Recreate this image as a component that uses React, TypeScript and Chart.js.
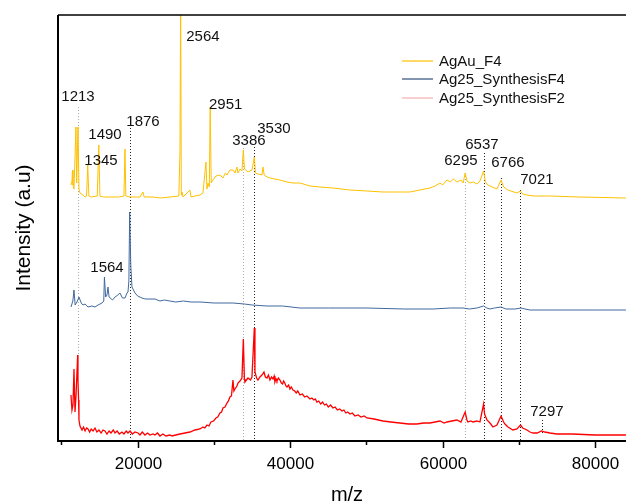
import React, { useEffect, useRef } from 'react';
import { Chart, registerables } from 'chart.js';

Chart.register(...registerables);

const FONT = '"Liberation Sans", Arial, sans-serif';

const seriesNames = ['AgAu_F4', 'Ag25_SynthesisF4', 'Ag25_SynthesisF2'];
const seriesColors = ['#FFC000', '#41699E', '#FF0000'];
const legendColors = ['#FFC000', '#2E4D7B', '#F5AFAF'];

// AgAu_F4 (yellow)
const agAuMz = [
  11250, 11383, 11450, 11515, 11646, 11908, 12000, 12170, 12301, 12432, 12826, 13088, 13300, 13450, 13600,
  13900, 14700, 14900, 15050, 15500, 16500, 17500, 18200, 18334, 18450, 19000, 20302, 20695, 20850, 22000,
  23000, 24236, 25400, 25548, 25640, 25720, 25810, 25950, 26859, 27000, 27515, 28170, 28564, 28957, 29089,
  29220, 29400, 29510, 29650, 29876, 30269, 30794, 31187, 31500, 31712, 32105, 32499, 32761, 33023, 33154,
  33417, 33679, 33860, 34000, 34466, 34990, 35300, 35450, 35777, 36300, 36433, 36600, 37000, 37351, 38000,
  38663, 39581, 40368, 41286, 42597, 43909, 45614, 47843, 50072, 52171, 54400, 55712, 57000, 58335, 59000,
  59646, 60000, 60564, 61000, 61400, 61876, 62400, 62700, 62950, 63200, 63581, 64000, 64500, 64893, 65370,
  65600, 65943, 66500, 67123, 67660, 68000, 68566, 69746, 70210, 70500, 71058, 72000, 74074, 78000, 84041,
];
const agAuI = [
  256, 260, 271, 256, 252, 314, 258, 314, 252, 248, 246, 244, 245, 276, 245,
  244, 245, 296, 245, 244, 244, 244, 245, 292, 245, 244, 244, 249, 244, 244,
  243, 244, 245, 289, 450, 246, 249, 244, 251, 244, 245, 246, 248, 279, 252,
  258, 254, 334, 258, 261, 265, 266, 263, 268, 266, 271, 271, 268, 274, 268,
  272, 270, 291, 272, 269, 271, 284, 268, 267, 266, 274, 266, 264, 263, 262,
  261, 259, 258, 258, 255, 254, 253, 251, 250, 249, 249, 249, 251, 253, 255,
  258, 256, 261, 259, 262, 259, 261, 258, 268, 260, 258, 259, 257, 260, 270,
  259, 256, 254, 252, 261, 254, 251, 248, 250, 247, 246, 245, 245, 244, 243,
];

// Ag25_SynthesisF4 (blue)
const ag25F4Mz = [
  11250, 11500, 11646, 11800, 12039, 12301, 12600, 12826, 13100, 13482, 14000, 14400, 14800, 15318, 15550,
  15640, 15800, 15974, 16105, 16250, 16367, 16700, 17023, 17400, 17679, 18000, 18334, 18600, 18728, 18850,
  18950, 19100, 19252, 19646, 20000, 20564, 21000, 21613, 22269, 22925, 23500, 24236, 25000, 26000, 27000,
  28170, 30000, 32499, 34000, 35000, 36958, 39000, 41286, 45000, 50072, 55000, 58728, 61000, 62663, 63500,
  64500, 65370, 65800, 66205, 66800, 67660, 68300, 68828, 69500, 70271, 70800, 71451, 75000, 80000, 84041,
];
const ag25F4I = [
  134, 140, 151, 136, 139, 144, 138, 136, 137, 134, 135, 134, 136, 138, 140,
  164, 144, 146, 154, 144, 144, 141, 144, 146, 148, 143, 143, 148, 149, 160,
  229, 175, 154, 148, 145, 143, 142, 142, 142, 140, 141, 140, 139, 140, 139,
  139, 138, 138, 137, 136, 135, 135, 133, 133, 133, 132, 132, 133, 133, 132,
  133, 135, 133, 132, 133, 134, 132, 132, 132, 133, 132, 131, 131, 131, 131,
];

// Ag25_SynthesisF2 (red)
const ag25F2Mz = [
  11250, 11383, 11515, 11646, 11777, 11908, 12130, 12170, 12250, 12301, 12432,
  12700, 12900, 13100, 13300, 13482, 13700, 13900, 14150, 14400, 14650, 14925, 15200, 15450, 15712, 15974,
  16250, 16500, 16800, 17023, 17300, 17600, 17941, 18200, 18500, 18728, 19000, 19300, 19646, 20039, 20300,
  20600, 20958, 21300, 21613, 22007, 22269, 22600, 22925, 23300, 23700, 24236, 24498, 25000, 25548, 26203,
  26859, 27515,
  28170, 28564, 28800, 29089, 29350, 29613, 29950, 30269, 30500, 30794, 31000, 31187, 31450, 31712, 31900,
  32105, 32300, 32499, 32620, 32761, 33023, 33154, 33417, 33679,
  33860, 34000, 34072, 34466, 34800, 34990, 35300, 35384, 35600, 35777,
  36040, 36300, 36564, 36750, 36958, 37150, 37351, 37550, 37745, 37900, 38000, 38150, 38269, 38450, 38663,
  38850, 39000, 39150, 39300, 39450, 39581, 39800, 39974, 40150, 40368, 40600, 40800, 41000, 41286, 41600,
  41900, 42200, 42597, 42850, 43100, 43300, 43515, 43750, 44000, 44250, 44500, 44750, 45000, 45300, 45614,
  45900, 46200, 46500, 46800, 47050, 47300, 47550, 47843, 48150, 48500, 48900, 49300, 49700, 50072,
  51000, 52171, 53200, 54400, 55500, 56630, 57500, 58335, 59000, 59646, 60200, 60564, 61200, 61876, 62400,
  62950, 63188, 63319, 63700, 63975, 64500, 64893, 65370, 65500, 65812, 66205, 66598, 67123, 67660, 68000,
  68172, 68566, 69222, 69746, 70210, 70500, 71058, 71451, 71845, 72400, 72970, 73400, 74074, 74992, 77000,
  80000, 84041,
];
const ag25F2I = [
  46, 31, 36, 72, 29, 44, 86, 61, 41, 21, 15,
  11, 14, 10, 13, 12, 9, 12, 10, 13, 9, 11, 8, 11, 10, 7,
  10, 8, 11, 8, 10, 7, 9, 7, 10, 8, 10, 7, 9, 8, 6,
  9, 6, 8, 6, 7, 6, 8, 5, 7, 5, 6, 5, 6, 7, 8,
  9, 11,
  12, 14, 13, 16, 15, 19, 20, 23, 24, 28, 29, 33, 34, 38, 40,
  44, 45, 61, 50, 52, 55, 58, 60, 63,
  102, 62, 59, 63, 61, 64, 113, 69, 63, 61,
  64, 66, 69, 64, 63, 66, 61, 64, 62, 65, 59, 62, 60, 63, 61,
  58, 57, 60, 58, 55, 54, 56, 52, 54, 51, 50, 48, 50, 46, 47,
  44, 45, 42, 43, 41, 42, 39, 40, 37, 39, 36, 37, 34, 36, 33,
  34, 31, 32, 30, 31, 28, 29, 27, 28, 25, 26, 24, 25, 23,
  22, 20, 19, 18, 17, 17, 18, 18, 19, 20, 18, 19, 20, 21, 19,
  29, 21, 19, 20, 19, 20, 19, 37, 27, 21, 18, 14, 16, 25, 19,
  17, 14, 11, 12, 16, 13, 11, 9, 8, 8, 10, 9, 8, 7, 7,
  6, 6,
];

// Peak annotations
const peakLabels = ['1213', '1490', '1345', '1876', '2564', '2951', '3386', '3530', '6537', '6295', '6766', '7021', '1564', '7297'];
const peakLabelMz = [12170, 15712, 15187, 20695, 28564, 31548, 34597, 37876, 65156, 62401, 68566, 72369, 15974, 73681];
const peakLabelI = [344, 306, 280, 319, 404, 336, 300, 312, 296, 280, 278, 261, 173, 29];

// Dotted guide lines
const guideMz = [12130, 18950, 33860, 35300, 62950, 65370, 67660, 70210, 72970];
const guideTop = [334, 313, 293, 294, 268, 288, 263, 251, 21];
const guideBottom = [86, 0, 0, 0, 0, 0, 0, 0, 8];
const guideDark = [false, true, false, true, false, true, true, true, true];

// Axis
const xMin = 9550;
const xMax = 84050;
const yMin = 0;
const yMax = 426;
const xTickValues = [10000, 20000, 30000, 40000, 50000, 60000, 70000, 80000];
const xTickLabels = ['', '20000', '', '40000', '', '60000', '', '80000'];
const xTitle = 'm/z';
const yTitle = 'Intensity (a.u)';

const overlayPlugin = {
  id: 'overlay',
  beforeDatasetsDraw(chart: any) {
    const { ctx, scales } = chart;
    const xs = scales.x;
    const ys = scales.y;
    ctx.save();
    ctx.lineWidth = 1;
    ctx.setLineDash([1, 2]);
    guideMz.forEach((m, i) => {
      const x = Math.round(xs.getPixelForValue(m)) + 0.5;
      ctx.strokeStyle = guideDark[i] ? '#222222' : '#AAAAAA';
      ctx.beginPath();
      ctx.moveTo(x, ys.getPixelForValue(guideTop[i]));
      ctx.lineTo(x, ys.getPixelForValue(guideBottom[i]));
      ctx.stroke();
    });
    ctx.restore();
  },
  afterDraw(chart: any) {
    const { ctx, scales, chartArea } = chart;
    const xs = scales.x;
    const ys = scales.y;
    ctx.save();
    // axes
    ctx.strokeStyle = '#000';
    ctx.setLineDash([]);
    ctx.lineWidth = 2;
    ctx.beginPath();
    ctx.moveTo(chartArea.left, chartArea.top);
    ctx.lineTo(chartArea.left, chartArea.bottom);
    ctx.lineTo(chartArea.right, chartArea.bottom);
    ctx.stroke();
    ctx.lineWidth = 1.5;
    ctx.beginPath();
    ctx.moveTo(chartArea.left, chartArea.top);
    ctx.lineTo(chartArea.right, chartArea.top);
    ctx.stroke();
    // tick marks and labels
    ctx.lineWidth = 1.5;
    ctx.fillStyle = '#000';
    ctx.font = `17px ${FONT}`;
    ctx.textAlign = 'center';
    ctx.textBaseline = 'middle';
    xTickValues.forEach((v, i) => {
      const x = Math.round(xs.getPixelForValue(v)) + 0.5;
      const len = xTickLabels[i] ? 7 : 4;
      ctx.beginPath();
      ctx.moveTo(x, chartArea.bottom);
      ctx.lineTo(x, chartArea.bottom + len);
      ctx.stroke();
      if (xTickLabels[i]) ctx.fillText(xTickLabels[i], x, chartArea.bottom + 23);
    });
    // peak labels
    ctx.fillStyle = '#111';
    ctx.font = `15px ${FONT}`;
    peakLabels.forEach((t, i) => {
      ctx.fillText(t, xs.getPixelForValue(peakLabelMz[i]), ys.getPixelForValue(peakLabelI[i]));
    });
    // legend
    ctx.textAlign = 'left';
    const lx = 402;
    const ly = [61, 79, 98];
    seriesNames.forEach((n, i) => {
      ctx.strokeStyle = legendColors[i];
      ctx.lineWidth = 1.2;
      ctx.beginPath();
      ctx.moveTo(lx, ly[i]);
      ctx.lineTo(lx + 31, ly[i]);
      ctx.stroke();
      ctx.fillStyle = '#111';
      ctx.fillText(n, lx + 37, ly[i] + 1);
    });
    // titles
    ctx.fillStyle = '#000';
    ctx.font = `20px ${FONT}`;
    ctx.textAlign = 'center';
    ctx.fillText(xTitle, 347, 495);
    ctx.translate(24, 228);
    ctx.rotate(-Math.PI / 2);
    ctx.font = `21px ${FONT}`;
    ctx.fillText(yTitle, 0, 0);
    ctx.restore();
  },
};

function makeData(mz: number[], inten: number[]) {
  return mz.map((x, i) => ({ x, y: inten[i] }));
}

export default function App() {
  const ref = useRef<HTMLCanvasElement | null>(null);
  useEffect(() => {
    if (!ref.current) return;
    const chart = new Chart(ref.current, {
      type: 'line',
      data: {
        datasets: [
          { label: seriesNames[0], data: makeData(agAuMz, agAuI), borderColor: seriesColors[0], borderWidth: 1, pointRadius: 0, tension: 0, fill: false },
          { label: seriesNames[1], data: makeData(ag25F4Mz, ag25F4I), borderColor: seriesColors[1], borderWidth: 1, pointRadius: 0, tension: 0, fill: false },
          { label: seriesNames[2], data: makeData(ag25F2Mz, ag25F2I), borderColor: seriesColors[2], borderWidth: 1.3, pointRadius: 0, tension: 0, fill: false },
        ],
      },
      options: {
        animation: false,
        responsive: false,
        maintainAspectRatio: false,
        layout: { padding: { left: 58, top: 15, right: 0, bottom: 63 } },
        plugins: { legend: { display: false }, tooltip: { enabled: false } },
        scales: {
          x: { type: 'linear', display: false, min: xMin, max: xMax },
          y: { type: 'linear', display: false, min: yMin, max: yMax },
        },
      },
      plugins: [overlayPlugin],
    } as any);
    return () => chart.destroy();
  }, []);
  return (
    <div style={{ position: 'absolute', left: 0, top: 0, width: 626, height: 504 }}>
      <canvas ref={ref} width={626} height={504} style={{ width: 626, height: 504 }} />
    </div>
  );
}
